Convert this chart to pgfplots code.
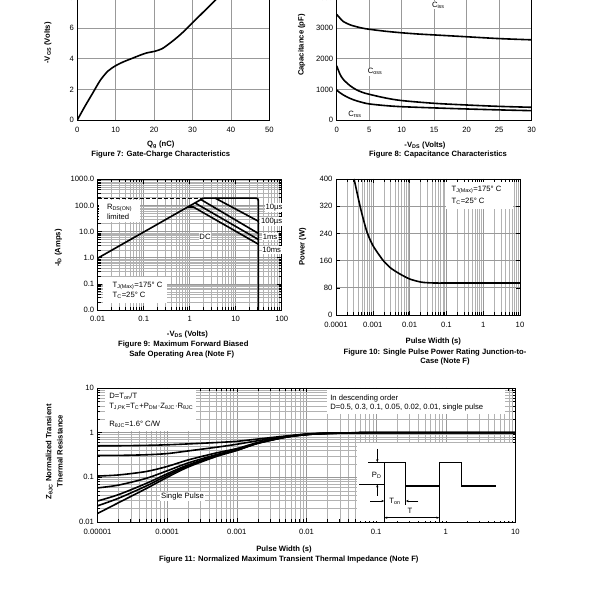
\documentclass[border=0pt]{standalone}
\usepackage{fontspec}
\setmainfont{Liberation Sans}
\usepackage{pgfplots}
\pgfplotsset{compat=1.18}
\usetikzlibrary{arrows.meta}
\newcommand{\fs}{\fontsize{7.7}{8.5}\selectfont}
\newcommand{\sbs}[1]{\textsubscript{#1}}
\pgfplotsset{
  base/.style={scale only axis, anchor=south west,
    axis line style={black, line width=0.8bp},
    /pgf/number format/assume math mode=true,
    /pgf/number format/set thousands separator={},
    tick label style={font=\fs, black},
    xticklabel style={yshift=-3.5bp},
    major grid style={gray!80, line width=0.6bp},
    minor grid style={gray!60, line width=0.45bp},
    tick style={black, line width=0.5bp},
  },
  crv/.style={black, line width=1.6bp, no markers},
}
\begin{document}
\begin{tikzpicture}
\useasboundingbox (0,0) rectangle (600bp,600bp);
\clip (0,0) rectangle (600bp,600bp);

% ---------- Figure 7
\begin{axis}[base, at={(77.3bp,480bp)}, width=192bp, height=153bp,
  xmin=0, xmax=50, ymin=0, ymax=10, xtick={0,10,...,50}, ytick={0,2,...,10},
  grid=major, major tick length=0pt]
\addplot[crv, smooth] coordinates {(0,0) (2,0.9) (4,1.75) (6,2.6) (8,3.2) (10,3.55) (12,3.8) (14,4.0) (16,4.2) (18,4.38) (20,4.48) (22,4.65) (24,5.0) (26,5.4) (28,5.85) (30,6.35) (32,6.85) (34,7.35) (36,7.85) (38,8.35) (40,8.85)};
\end{axis}

% ---------- Figure 8
\begin{axis}[base, at={(336.7bp,480bp)}, width=195bp, height=153bp,
  xmin=0, xmax=30, ymin=0, ymax=5000, xtick={0,5,...,30}, ytick={0,1000,...,5000},
  grid=major, major tick length=0pt, scaled y ticks=false]
\addplot[crv, smooth] coordinates {(0,3450) (0.5,3330) (1,3220) (2,3115) (3,3050) (4,3000) (5,2965) (7.5,2900) (10,2850) (12.5,2810) (15,2780) (20,2720) (25,2660) (30,2620)};
\addplot[crv, smooth] coordinates {(0,1770) (0.5,1500) (1,1330) (2,1130) (3,990) (4,900) (5,840) (7.5,720) (10,635) (15,545) (20,490) (25,445) (30,415)};
\addplot[crv, smooth] coordinates {(0,980) (0.5,890) (1,820) (2,710) (3,630) (4,570) (5,525) (7.5,470) (10,435) (15,395) (20,360) (25,330) (30,305)};
\end{axis}

% ---------- Figure 9
\begin{axis}[base, at={(97.7bp,290bp)}, width=184bp, height=130.7bp,
  xmode=log, ymode=log, xmin=0.01, xmax=100, ymin=0.01, ymax=1000,
  xticklabel style={yshift=1bp},
  xtick={0.01,0.1,1,10,100}, xticklabels={0.01,0.1,1,10,100},
  ytick={0.01,0.1,1,10,100,1000}, yticklabels={0.0,0.1,1.0,10.0,100.0,1000.0},
  grid=both]
\addplot[black, line width=0.9bp, dashed, dash pattern=on 4bp off 2bp] coordinates {(0.01,190) (2,190)};
\addplot[crv] coordinates {(0.01,0.96) (1.98,190)};
\addplot[crv] coordinates {(1.98,190) (26,190) (29,187) (30.5,175) (31,150) (31,0.01)};
\addplot[crv] coordinates {(3.6,190) (31,25)};
\addplot[crv] coordinates {(1.75,168) (31,8.5)};
\addplot[crv] coordinates {(1.3,125) (31,5)};
\addplot[crv] coordinates {(0.9,87) (1.2,87) (31,3.3)};
\end{axis}

% ---------- Figure 10
\begin{axis}[base, at={(336bp,285bp)}, width=184bp, height=136bp,
  xmode=log, xmin=0.0001, xmax=10, ymin=0, ymax=400,
  xtick={0.0001,0.001,0.01,0.1,1,10}, xticklabels={0.0001,0.001,0.01,0.1,1,10},
  ytick={0,80,...,400}, xmajorgrids, xminorgrids, ymajorgrids]
\addplot[crv, smooth] coordinates {(3.1e-4,400) (4e-4,345) (5e-4,300) (7e-4,243) (1e-3,205) (1.5e-3,176) (2e-3,158) (3e-3,139) (5e-3,123) (1e-2,106) (2e-2,97) (3e-2,95) (5e-2,94) (1e-1,94) (1,94) (10,94)};
\end{axis}

% ---------- Figure 11
\begin{axis}[base, at={(97.5bp,78bp)}, width=418bp, height=134bp,
  xmode=log, ymode=log, xmin=0.00001, xmax=10, ymin=0.01, ymax=10,
  xtick={0.00001,0.0001,0.001,0.01,0.1,1,10}, xticklabels={0.00001,0.0001,0.001,0.01,0.1,1,10},
  ytick={0.01,0.1,1,10}, yticklabels={0.01,0.1,1,10}, grid=both]
\addplot[crv, smooth] coordinates {(1e-5,0.51) (2e-5,0.51) (5e-5,0.52) (1e-4,0.535) (2e-4,0.56) (5e-4,0.6) (1e-3,0.64) (2e-3,0.72) (5e-3,0.84) (1e-2,0.93) (2e-2,0.975) (5e-2,0.995) (1e-1,1.0) (1,1.0) (10,1.0)};
\addplot[crv, smooth] coordinates {(1e-5,0.31) (2e-5,0.31) (5e-5,0.32) (1e-4,0.34) (2e-4,0.39) (5e-4,0.47) (1e-3,0.55) (2e-3,0.66) (5e-3,0.82) (1e-2,0.925) (2e-2,0.97) (5e-2,0.993) (1e-1,1.0) (1,1.0) (10,1.0)};
\addplot[crv, smooth] coordinates {(1e-5,0.107) (2e-5,0.113) (5e-5,0.135) (1e-4,0.175) (2e-4,0.245) (5e-4,0.35) (1e-3,0.44) (2e-3,0.6) (5e-3,0.8) (1e-2,0.915) (2e-2,0.97) (5e-2,0.99) (1e-1,1.0) (1,1.0) (10,1.0)};
\addplot[crv, smooth] coordinates {(1e-5,0.058) (2e-5,0.067) (5e-5,0.095) (1e-4,0.14) (2e-4,0.21) (5e-4,0.32) (1e-3,0.42) (2e-3,0.59) (5e-3,0.8) (1e-2,0.91) (2e-2,0.965) (5e-2,0.99) (1e-1,1.0) (1,1.0) (10,1.0)};
\addplot[crv, smooth] coordinates {(1e-5,0.0295) (2e-5,0.041) (5e-5,0.073) (1e-4,0.12) (2e-4,0.19) (5e-4,0.305) (1e-3,0.41) (2e-3,0.585) (5e-3,0.795) (1e-2,0.91) (2e-2,0.965) (5e-2,0.99) (1e-1,1.0) (1,1.0) (10,1.0)};
\addplot[crv, smooth] coordinates {(1e-5,0.023) (2e-5,0.034) (5e-5,0.064) (1e-4,0.11) (2e-4,0.18) (5e-4,0.3) (1e-3,0.405) (2e-3,0.58) (5e-3,0.79) (1e-2,0.905) (2e-2,0.96) (5e-2,0.99) (1e-1,1.0) (1,1.0) (10,1.0)};
\addplot[crv, smooth] coordinates {(1e-5,0.0155) (2e-5,0.027) (5e-5,0.056) (1e-4,0.1) (2e-4,0.17) (5e-4,0.29) (1e-3,0.4) (2e-3,0.575) (5e-3,0.79) (1e-2,0.905) (2e-2,0.96) (5e-2,0.99) (1e-1,1.0) (1,1.0) (10,1.0)};
\end{axis}

% ---------- labels and titles
\begin{scope}[every node/.style={font=\fs\bfseries, inner sep=0.5bp}]
\node[rotate=90] at (48bp,557bp) {-V\sbs{GS} (Volts)};
\node at (160.8bp,455bp) {Q\sbs{g} (nC)};
\node at (160.8bp,445.7bp) {Figure 7: Gate-Charge Characteristics};
\node[rotate=90] at (301.7bp,555bp) {Capacitance (pF)};
\node at (425bp,454.3bp) {-V\sbs{DS} (Volts)};
\node at (438bp,445.7bp) {Figure 8: Capacitance Characteristics};
\node[rotate=90] at (58.3bp,352bp) {-I\sbs{D} (Amps)};
\node at (187.5bp,265.7bp) {-V\sbs{DS} (Volts)};
\node at (183.3bp,255bp) {Figure 9: Maximum Forward Biased};
\node at (181.7bp,245bp) {Safe Operating Area (Note F)};
\node[rotate=90] at (302.7bp,353.3bp) {Power (W)};
\node at (433.3bp,258.3bp) {Pulse Width (s)};
\node at (435bp,247.3bp) {Figure 10: Single Pulse Power Rating Junction-to-};
\node at (445bp,238.3bp) {Case (Note F)};
\node[rotate=90] at (49.3bp,148.3bp) {Z\sbs{θJC} Normalized Transient};
\node[rotate=90] at (60bp,149bp) {Thermal Resistance};
\node at (284bp,50.7bp) {Pulse Width (s)};
\node at (288.8bp,40.7bp) {Figure 11: Normalized Maximum Transient Thermal Impedance (Note F)};
\end{scope}

\begin{scope}[every node/.style={font=\fs, inner sep=0.8bp}]
% fig 8
\node[fill=white] at (438.3bp,595bp) {C\sbs{iss}};
\node[fill=white] at (375bp,528.3bp) {C\sbs{oss}};
\node[fill=white] at (355bp,486bp) {C\sbs{rss}};
% fig 9
\fill[white] (98.5bp,378bp) rectangle (140bp,400bp);
\node[anchor=west] at (106bp,391.7bp) {R\sbs{DS(ON)}};
\node[anchor=west] at (106bp,383.3bp) {limited};
\fill[white] (103bp,297bp) rectangle (167bp,323bp);
\node[anchor=west] at (111.7bp,314bp) {T\sbs{J(Max)}=175° C};
\node[anchor=west] at (111.7bp,305bp) {T\sbs{C}=25° C};
\node[fill=white] at (205bp,363.3bp) {DC};
\node[fill=white] at (274bp,392.3bp) {10µs};
\node[fill=white] at (271.7bp,378.3bp) {100µs};
\node[fill=white] at (270bp,363.3bp) {1ms};
\node[fill=white] at (271.7bp,350bp) {10ms};
% fig 10
\fill[white] (446bp,391bp) rectangle (513bp,418bp);
\node[anchor=west] at (450.7bp,410bp) {T\sbs{J(Max)}=175° C};
\node[anchor=west] at (450.7bp,398.3bp) {T\sbs{C}=25° C};
% fig 11
\fill[white] (105bp,169bp) rectangle (196bp,211bp);
\node[anchor=west] at (108.3bp,203.3bp) {D=T\sbs{on}/T};
\node[anchor=west] at (108.3bp,193.3bp) {T\sbs{J,PK}=T\sbs{C}+P\sbs{DM}·Z\sbs{θJC}·R\sbs{θJC}};
\node[anchor=west] at (108.3bp,175.7bp) {R\sbs{θJC}=1.6° C/W};
\fill[white] (327bp,186bp) rectangle (505bp,211bp);
\node[anchor=west] at (329.3bp,201.7bp) {In descending order};
\node[anchor=west] at (329.3bp,192.3bp) {D=0.5, 0.3, 0.1, 0.05, 0.02, 0.01, single pulse};
\node[fill=white] at (182.5bp,103.3bp) {Single Pulse};
% inset
\fill[white] (357bp,78.6bp) rectangle (514.8bp,156.7bp);
\draw[line width=1.2bp] (359.3bp,115.7bp) -- (384.3bp,115.7bp) -- (384.3bp,137.7bp) -- (405.7bp,137.7bp) -- (405.7bp,114bp) -- (439.3bp,114bp) -- (439.3bp,137.7bp) -- (461.7bp,137.7bp) -- (461.7bp,114bp) -- (496bp,114bp);
\draw[line width=0.6bp] (384.3bp,115.7bp) -- (384.3bp,78bp);
\draw[line width=0.6bp] (439.3bp,114bp) -- (439.3bp,78bp);
\draw[line width=0.6bp] (405.7bp,114bp) -- (405.7bp,95bp);
\draw[line width=0.6bp] (368.3bp,137.7bp) -- (384.3bp,137.7bp);
\draw[line width=0.6bp, {Stealth[length=3bp]}-{Stealth[length=3bp]}] (384.3bp,82.3bp) -- (439.3bp,82.3bp);
\node at (410bp,89bp) {T};
\draw[line width=0.6bp, -{Stealth[length=3bp]}] (370bp,99bp) -- (384.3bp,99bp);
\draw[line width=0.6bp, -{Stealth[length=3bp]}] (418.3bp,99bp) -- (405.7bp,99bp);
\node at (395bp,99bp) {T\sbs{on}};
\draw[line width=0.6bp, -{Stealth[length=3bp]}] (377.3bp,151bp) -- (377.3bp,137.7bp);
\draw[line width=0.6bp, -{Stealth[length=3bp]}] (377.3bp,104.3bp) -- (377.3bp,115.7bp);
\node at (376.7bp,125bp) {P\sbs{D}};
\end{scope}
\end{tikzpicture}
\end{document}
